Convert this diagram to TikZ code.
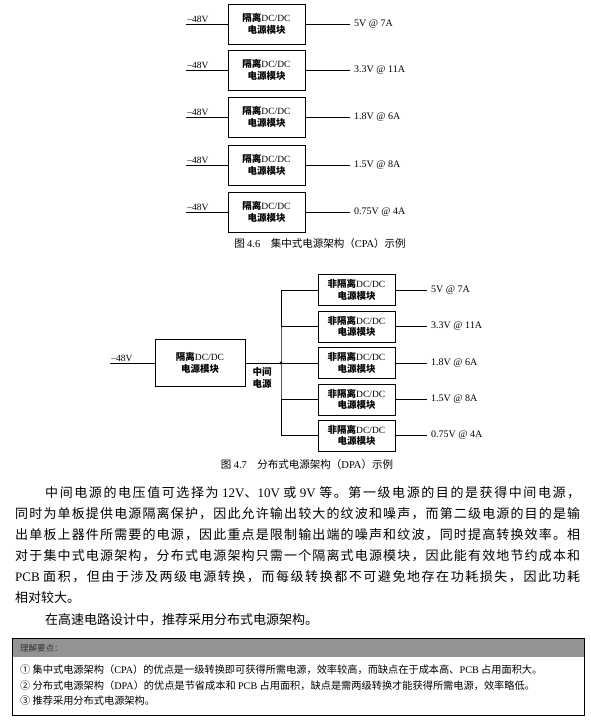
\documentclass[tikz,border=0pt]{standalone}
\usepackage{fontspec}
\setmainfont{Noto Sans CJK SC}
\newfontfamily\en{Liberation Serif}
\usetikzlibrary{positioning}
% stretchable glue between CJK characters, for justified lines
\XeTeXinterchartokenstate=1
\newXeTeXintercharclass\cjkcls
\newcount\cjkc
\cjkc="3000 \loop\XeTeXcharclass\cjkc=\cjkcls\advance\cjkc by 1 \ifnum\cjkc<"3040 \repeat
\cjkc="4E00 \loop\XeTeXcharclass\cjkc=\cjkcls\advance\cjkc by 1 \ifnum\cjkc<"A000 \repeat
\cjkc="FF00 \loop\XeTeXcharclass\cjkc=\cjkcls\advance\cjkc by 1 \ifnum\cjkc<"FFF0 \repeat
\XeTeXinterchartoks\cjkcls\cjkcls={\hskip0pt plus 4pt\relax}
\newcommand\fullline[2]{\makebox[#1][s]{#2}}

\begin{document}
\begin{tikzpicture}[x=1pt,y=-1pt,
     mb/.style={draw,line width=0.6pt,minimum width=77pt,minimum height=40pt,inner sep=1pt,align=center,font=\fontsize{9.5}{11.5}\selectfont\bfseries},
     nb/.style={mb,minimum height=31pt},
     vin/.style={anchor=south west,inner sep=1pt,font=\fontsize{9.5}{11}\en},
     vl/.style={anchor=west,inner sep=4pt,font=\fontsize{10}{12}\en},
     wl/.style={line width=0.6pt},
     figcap/.style={font=\fontsize{10.5}{12}\selectfont},
     tl/.style={anchor=west,inner sep=0pt,font=\fontsize{13}{15}\selectfont},
     it/.style={anchor=west,inner sep=0pt,font=\fontsize{10.2}{12}\selectfont}]
    \useasboundingbox (0,0) rectangle (591,723);
    % centralized architecture
    \node[mb] (c1) at (266.5,24)  {隔离{\en\mdseries DC/DC}\\电源模块};
    \node[mb] (c2) at (266.5,70)  {隔离{\en\mdseries DC/DC}\\电源模块};
    \node[mb] (c3) at (266.5,117) {隔离{\en\mdseries DC/DC}\\电源模块};
    \node[mb] (c4) at (266.5,165) {隔离{\en\mdseries DC/DC}\\电源模块};
    \node[mb] (c5) at (266.5,212) {隔离{\en\mdseries DC/DC}\\电源模块};
    \coordinate (ci1) at (186,24);
    \coordinate (ci2) at (186,70);
    \coordinate (ci3) at (186,117);
    \coordinate (ci4) at (186,165);
    \coordinate (ci5) at (186,212);
    \node[vl] (co1) at (350,24)  {5V @ 7A};
    \node[vl] (co2) at (350,70)  {3.3V @ 11A};
    \node[vl] (co3) at (350,117) {1.8V @ 6A};
    \node[vl] (co4) at (350,165) {1.5V @ 8A};
    \node[vl] (co5) at (350,212) {0.75V @ 4A};
    \draw[wl] (ci1)--node[vin,at start]{–48V}(c1.west);
    \draw[wl] (ci2)--node[vin,at start]{–48V}(c2.west);
    \draw[wl] (ci3)--node[vin,at start]{–48V}(c3.west);
    \draw[wl] (ci4)--node[vin,at start]{–48V}(c4.west);
    \draw[wl] (ci5)--node[vin,at start]{–48V}(c5.west);
    \draw[wl] (c1.east)--(co1.west);
    \draw[wl] (c2.east)--(co2.west);
    \draw[wl] (c3.east)--(co3.west);
    \draw[wl] (c4.east)--(co4.west);
    \draw[wl] (c5.east)--(co5.west);
    \node[figcap] (cap1) at (320,244) {图 {\en 4.6}　集中式电源架构（{\en CPA}）示例};
    % distributed architecture
    \node[mb,minimum width=90pt,minimum height=47pt] (d0) at (200,363) {隔离{\en\mdseries DC/DC}\\电源模块};
    \node[nb] (d1) at (356.5,290)   {非隔离{\en\mdseries DC/DC}\\电源模块};
    \node[nb] (d2) at (356.5,326.5) {非隔离{\en\mdseries DC/DC}\\电源模块};
    \node[nb] (d3) at (356.5,363)   {非隔离{\en\mdseries DC/DC}\\电源模块};
    \node[nb] (d4) at (356.5,399.5) {非隔离{\en\mdseries DC/DC}\\电源模块};
    \node[nb] (d5) at (356.5,435.5) {非隔离{\en\mdseries DC/DC}\\电源模块};
    \coordinate (di) at (110,363);
    \coordinate (jn) at (281,363);
    \draw[wl] (di)--node[vin,at start]{–48V}(d0.west);
    \draw[wl] (d0.east)--(d3.west);
    \draw[wl] (d1.west)-|(jn)|-(d5.west);
    \draw[wl] (jn|-d2.west)--(d2.west);
    \draw[wl] (jn|-d4.west)--(d4.west);
    \fill (jn) circle (1.6pt);
    \node[font=\fontsize{9.5}{11.5}\selectfont\bfseries,align=center] (mid) at (262,378) {中间\\电源};
    \node[vl] (do1) at (427,290)   {5V @ 7A};
    \node[vl] (do2) at (427,326.5) {3.3V @ 11A};
    \node[vl] (do3) at (427,363)   {1.8V @ 6A};
    \node[vl] (do4) at (427,399.5) {1.5V @ 8A};
    \node[vl] (do5) at (427,435.5) {0.75V @ 4A};
    \draw[wl] (d1.east)--(do1.west);
    \draw[wl] (d2.east)--(do2.west);
    \draw[wl] (d3.east)--(do3.west);
    \draw[wl] (d4.east)--(do4.west);
    \draw[wl] (d5.east)--(do5.west);
    \node[figcap] (cap2) at (307,465) {图 {\en 4.7}　分布式电源架构（{\en DPA}）示例};
    % body text
    \node[tl] (p1) at (45,493) {\fullline{535pt}{中间电源的电压值可选择为 {\en 12V}、{\en 10V} 或 {\en 9V} 等。第一级电源的目的是获得中间电源，}};
    \node[tl] (p2) at (15,514) {\fullline{565pt}{同时为单板提供电源隔离保护，因此允许输出较大的纹波和噪声，而第二级电源的目的是输}};
    \node[tl] (p3) at (15,535) {\fullline{565pt}{出单板上器件所需要的电源，因此重点是限制输出端的噪声和纹波，同时提高转换效率。相}};
    \node[tl] (p4) at (15,556) {\fullline{565pt}{对于集中式电源架构，分布式电源架构只需一个隔离式电源模块，因此能有效地节约成本和}};
    \node[tl] (p5) at (15,577) {\fullline{565pt}{{\en PCB} 面积，但由于涉及两级电源转换，而每级转换都不可避免地存在功耗损失，因此功耗}};
    \node[tl] (p6) at (15,598) {相对较大。};
    \node[tl] (p7) at (45,620) {在高速电路设计中，推荐采用分布式电源架构。};
    % key points
    \fill[black!42] (12,638) rectangle (584,657);
    \draw[line width=0.6pt] (12,638) rectangle (584,715);
    \node[anchor=west,inner sep=0pt,text=black!80,font=\fontsize{8.5}{10}\selectfont] (kh) at (20,648) {理解要点：};
    \node[it] (k1) at (20,670) {① 集中式电源架构（{\en CPA}）的优点是一级转换即可获得所需电源，效率较高，而缺点在于成本高、{\en PCB} 占用面积大。};
    \node[it] (k2) at (20,686) {② 分布式电源架构（{\en DPA}）的优点是节省成本和 {\en PCB} 占用面积，缺点是需两级转换才能获得所需电源，效率略低。};
    \node[it] (k3) at (20,701) {③ 推荐采用分布式电源架构。};
\end{tikzpicture}
\end{document}
